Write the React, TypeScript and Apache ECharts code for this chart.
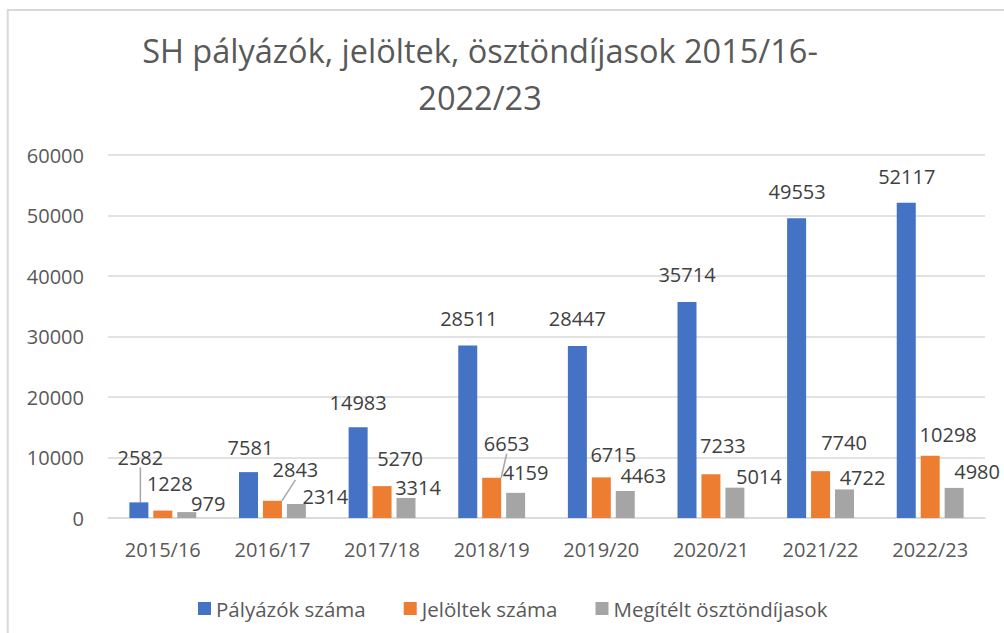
import React, { useEffect, useRef } from "react";
import * as echarts from "echarts";

const categories = ["2015/16", "2016/17", "2017/18", "2018/19", "2019/20", "2020/21", "2021/22", "2022/23"];
const seriesNames = ["Pályázók száma", "Jelöltek száma", "Megítélt ösztöndíjasok"];
const applicants = [2582, 7581, 14983, 28511, 28447, 35714, 49553, 52117];
const candidates = [1228, 2843, 5270, 6653, 6715, 7233, 7740, 10298];
const awarded = [979, 2314, 3314, 4159, 4463, 5014, 4722, 4980];
const yTicks = [0, 10000, 20000, 30000, 40000, 50000, 60000];
const titleLines = ["SH pályázók, jelöltek, ösztöndíjasok 2015/16-", "2022/23"];

const colors = ["#4472C4", "#ED7D31", "#A5A5A5"];

// label nudges (dx, dy) relative to default "top" placement, mimicking Excel auto layout
const labelNudges: number[][][] = [
  [[1.5, -30], [2, -10], [0, -10], [1, -12], [0, -12], [0, -12], [0.5, -12], [0.5, -11]],
  [[7, -12], [23, -16], [18, -13], [15, -19], [12, -8], [12, -14], [23.5, -14], [18, -6]],
  [[21.5, 6], [29, 7.5], [12, 5], [10, -5], [18, 0], [24, 4], [18, 2.6], [23, -1.4]],
];
// which labels get a leader line
const leaderLines: number[][] = [[0], [1, 3], []];

const FONT = "'Open Sans', 'Noto Sans', sans-serif";

export default function App() {
  const ref = useRef<HTMLDivElement>(null);
  useEffect(() => {
    if (!ref.current) return;
    const chart = echarts.init(ref.current, null, { renderer: "svg" });
    const allData = [applicants, candidates, awarded];
    const series = allData.map((vals, si) => ({
      name: seriesNames[si],
      type: "bar",
      barWidth: 19,
      barGap: "26%",
      itemStyle: { color: colors[si] },
      data: vals.map((v, i) => ({
        value: v,
        labelLine: {
          show: leaderLines[si].includes(i),
          lineStyle: { color: "#A6A6A6", width: 1.5 },
        },
      })),
      label: {
        show: true,
        position: "top",
        distance: 5,
        color: "#404040",
        fontSize: 20,
        fontFamily: FONT,
      },
      labelLine: { show: false, lineStyle: { color: "#A6A6A6", width: 1.5 } },
      labelLayout: (p: any) => ({
        dx: labelNudges[si][p.dataIndex][0],
        dy: labelNudges[si][p.dataIndex][1],
      }),
    }));
    chart.setOption({
      animation: false,
      backgroundColor: "#ffffff",
      textStyle: { fontFamily: FONT },
      graphic: [
        {
          type: "rect",
          shape: { x: 7.7, y: 10, width: 1200, height: 800 },
          style: { fill: "none", stroke: "#D9D9D9", lineWidth: 2 },
          silent: true,
          z: -1,
        },
        {
          type: "text",
          x: 480,
          y: 50,
          style: {
            text: titleLines[0],
            textAlign: "center",
            textVerticalAlign: "middle",
            fill: "#595959",
            font: `32.5px ${FONT}`,
          },
        },
        {
          type: "text",
          x: 480,
          y: 97,
          style: {
            text: titleLines[1],
            textAlign: "center",
            textVerticalAlign: "middle",
            fill: "#595959",
            font: `32.5px ${FONT}`,
          },
        },
      ],
      grid: { left: 108, right: 19, top: 155, bottom: 115 },
      legend: {
        data: seriesNames,
        left: 193,
        top: 593,
        icon: "rect",
        itemWidth: 13,
        itemHeight: 13,
        itemGap: 38,
        textStyle: { color: "#595959", fontSize: 20.5, fontFamily: FONT },
      },
      xAxis: {
        type: "category",
        data: categories,
        axisTick: { show: false },
        axisLine: { lineStyle: { color: "#D9D9D9", width: 1.5 } },
        axisLabel: { color: "#595959", fontSize: 20, margin: 21, fontFamily: FONT },
      },
      yAxis: {
        type: "value",
        min: yTicks[0],
        max: yTicks[yTicks.length - 1],
        interval: yTicks[1] - yTicks[0],
        axisLine: { show: false },
        axisTick: { show: false },
        splitLine: { lineStyle: { color: "#D9D9D9", width: 1.5 } },
        axisLabel: {
          color: "#595959",
          fontSize: 20,
          margin: 24,
          fontFamily: FONT,
          formatter: (v: number) => String(v),
        },
      },
      series,
    });
    return () => chart.dispose();
  }, []);
  return (
    <div
      ref={ref}
      style={{ position: "absolute", left: 0, top: 0, width: 1004, height: 633 }}
    />
  );
}
